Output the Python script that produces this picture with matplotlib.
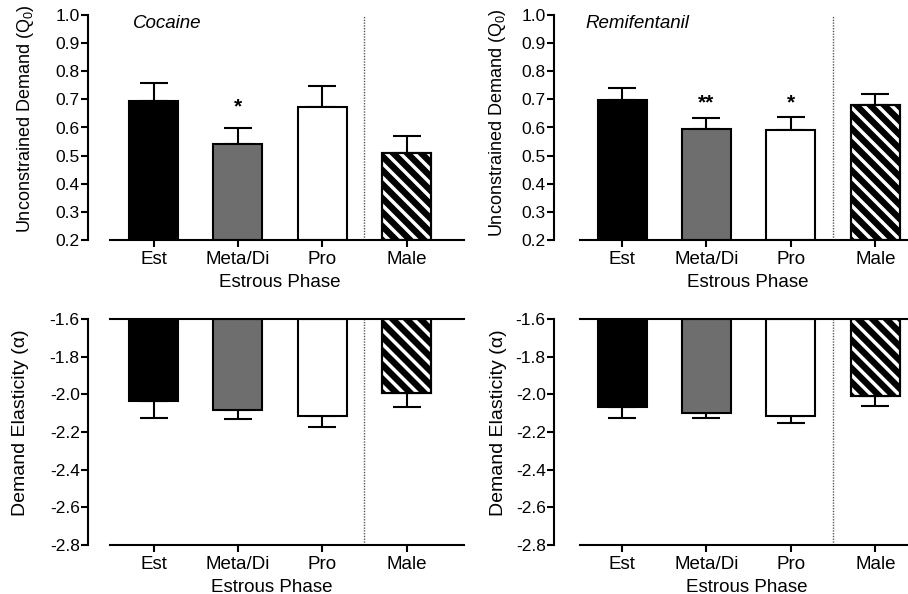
#!/usr/bin/env python3

import numpy as np
import matplotlib
matplotlib.use("Agg")
import matplotlib.pyplot as plt
from matplotlib.collections import LineCollection
from matplotlib.transforms import IdentityTransform

plt.rcParams["font.family"] = ["Liberation Sans", "DejaVu Sans"]
plt.rcParams["mathtext.default"] = "regular"
plt.rcParams["axes.unicode_minus"] = False

phases = ["Est", "Meta/Di", "Pro", "Male"]
fills = ["black", "#6e6e6e", "white", "white"]
striped = [False, False, False, True]

# Q0 (mean, upper SEM end)
coc_q0 = [0.694, 0.542, 0.673, 0.510]
coc_q0_top = [0.758, 0.598, 0.748, 0.570]
rem_q0 = [0.698, 0.594, 0.590, 0.679]
rem_q0_top = [0.741, 0.633, 0.636, 0.718]

# alpha (mean, lower SEM end)
coc_alpha = [-2.036, -2.084, -2.116, -1.991]
coc_alpha_low = [-2.124, -2.130, -2.174, -2.066]
rem_alpha = [-2.066, -2.098, -2.114, -2.007]
rem_alpha_low = [-2.128, -2.128, -2.151, -2.060]

# significance marks: (bar index, text, y)
coc_sig = [(1, "*", 0.674)]
rem_sig = [(1, "**", 0.686), (2, "*", 0.686)]

W, H = 908, 594
fig = plt.figure(figsize=(W / 100, H / 100), dpi=100)


def px_axes(left, right, top, bottom):
    return fig.add_axes([left / W, 1 - bottom / H, (right - left) / W, (bottom - top) / H])


def stripe(ax, patch, period=14, lw=4.6):
    # diagonal "\" stripes drawn in pixel space, clipped to the bar box
    bb = patch.get_window_extent()
    segs = []
    c = bb.x0 + bb.y0
    while c < bb.x1 + bb.y1 + period:
        segs.append([(c - bb.y1 - 20, bb.y1 + 20), (c - bb.y0 + 20, bb.y0 - 20)])
        c += period
    lc = LineCollection(segs, colors="black", linewidths=lw, capstyle="butt",
                        transform=IdentityTransform(), zorder=2.5)
    ax.add_collection(lc, autolim=False)
    lc.set_clip_path(None)
    lc.set_clip_box(bb)


def draw_bars(ax, x, heights, bottom):
    for i in range(len(phases)):
        bars = ax.bar(x[i], heights[i], bottom=bottom, width=0.58, color=fills[i],
                      edgecolor="black", linewidth=1.5, zorder=2)
        if striped[i]:
            ax.bar(x[i], heights[i], bottom=bottom, width=0.58, fill=False,
                   edgecolor="black", linewidth=1.5, zorder=3)
            stripe(ax, bars[0])


def style_axes(ax, xlim, line_start):
    ax.set_xlim(*xlim)
    for side in ["left", "bottom", "top"]:
        ax.spines[side].set_linewidth(1.5)
    ax.spines["right"].set_visible(False)
    ax.spines["bottom"].set_bounds(line_start, xlim[1] + 0.2)
    ax.set_xticks(range(len(phases)))
    ax.set_xticklabels(phases, fontsize=13.5)
    ax.tick_params(axis="x", length=5, width=1.5, pad=3)
    ax.tick_params(axis="y", length=5, width=1.5, pad=1, labelsize=12.5)
    ax.axvline(2.5, color="0.35", lw=1.0, ls=(0, (1, 1)))
    ax.set_xlabel("Estrous Phase", fontsize=13.5, labelpad=4)


def q0_panel(ax, vals, tops, sig, title, xlim, line_start, label_x, title_x, xlab_x, ylab_y):
    x = np.arange(len(phases))
    vals = np.array(vals)
    up = np.array(tops) - vals
    ax.set_ylim(0.2, 1.0)
    ax.set_xlim(*xlim)
    draw_bars(ax, x, vals - 0.2, 0.2)
    ax.errorbar(x, vals, yerr=[np.zeros_like(up), up], fmt="none", ecolor="black",
                elinewidth=1.5, capsize=10, capthick=1.5, zorder=1)
    ax.set_yticks(np.arange(0.2, 1.01, 0.1))
    ax.set_yticklabels([f"{v:.1f}" for v in np.arange(0.2, 1.01, 0.1)])
    style_axes(ax, xlim, line_start)
    ax.spines["top"].set_visible(False)
    ax.spines["left"].set_bounds(0.2, 1.0)
    ax.set_ylabel("Unconstrained Demand (Q$_0$)", fontsize=13)
    ax.yaxis.set_label_coords(label_x, ylab_y)
    ax.xaxis.label.set_x(xlab_x)
    ax.text(title_x, 0.96, title, transform=ax.transAxes, fontsize=13.5,
            style="italic", va="center", ha="left")
    for i, txt, y in sig:
        ax.text(x[i], y, txt, ha="center", va="center", fontsize=15,
                fontweight="bold")


def alpha_panel(ax, vals, lows, xlim, line_start, label_x, xlab_x):
    x = np.arange(len(phases))
    vals = np.array(vals)
    down = vals - np.array(lows)
    ax.set_ylim(-2.8, -1.6)
    ax.set_xlim(*xlim)
    draw_bars(ax, x, vals + 1.6, -1.6)
    ax.errorbar(x, vals, yerr=[down, np.zeros_like(down)], fmt="none", ecolor="black",
                elinewidth=1.5, capsize=10, capthick=1.5, zorder=1)
    ticks = np.arange(-2.8, -1.59, 0.2)
    ax.set_yticks(ticks)
    ax.set_yticklabels([f"{v:.1f}" for v in ticks])
    style_axes(ax, xlim, line_start)
    ax.spines["top"].set_bounds(line_start, xlim[1] + 0.2)
    ax.set_ylabel("Demand Elasticity (\u03b1)", fontsize=14)
    ax.yaxis.set_label_coords(label_x, 0.54)
    ax.xaxis.label.set_x(xlab_x)


ax1 = px_axes(88, 447, 15, 240)
q0_panel(ax1, coc_q0, coc_q0_top, coc_sig, "Cocaine", (-0.778, 3.48), -0.517,
         -0.145, 0.125, 0.535, 0.54)

ax2 = px_axes(554, 908, 15, 240)
q0_panel(ax2, rem_q0, rem_q0_top, rem_sig, "Remifentanil", (-0.805, 3.385), -0.497,
         -0.13, 0.09, 0.548, 0.52)

ax3 = px_axes(88, 447, 319, 545)
alpha_panel(ax3, coc_alpha, coc_alpha_low, (-0.778, 3.48), -0.517, -0.165, 0.512)

ax4 = px_axes(554, 908, 319, 545)
alpha_panel(ax4, rem_alpha, rem_alpha_low, (-0.805, 3.385), -0.497, -0.133, 0.544)

fig.savefig("out.png", dpi=100)
